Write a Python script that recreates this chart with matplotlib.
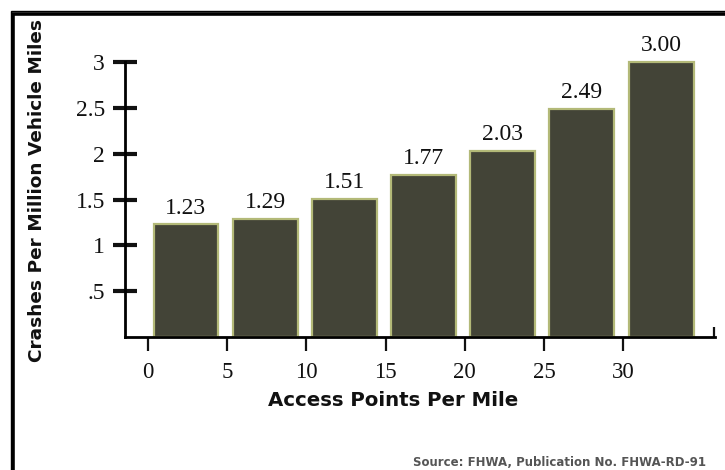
import matplotlib
matplotlib.use("Agg")
import matplotlib.pyplot as plt
from matplotlib.patches import Rectangle

# Data
access_points = [0, 5, 10, 15, 20, 25, 30]
crash_rates = [1.23, 1.29, 1.51, 1.77, 2.03, 2.49, 3.00]
value_labels = ["1.23", "1.29", "1.51", "1.77", "2.03", "2.49", "3.00"]
y_ticks = [0.5, 1, 1.5, 2, 2.5, 3]
y_tick_labels = [".5", "1", "1.5", "2", "2.5", "3"]
x_ticks = [0, 5, 10, 15, 20, 25, 30]

W, H = 725, 470
fig = plt.figure(figsize=(W / 100, H / 100), dpi=100)
fig.patch.set_facecolor("white")

# axes placement (pixel based)
x0_px, x1_px = 125, 715
y_base_px, y_top_px = 337, 34.5
ax = fig.add_axes([x0_px / W, (H - y_base_px) / H, (x1_px - x0_px) / W, (y_base_px - y_top_px) / H])
ax.set_facecolor("none")

xmin, xmax = -1.45, 35.8
ax.set_xlim(xmin, xmax)
ax.set_ylim(0, 3.3)

serif = ["Liberation Serif", "DejaVu Serif"]
sans = ["DejaVu Sans"]

bars = ax.bar([a + 0.35 for a in access_points], crash_rates, width=4.1, align="edge",
              color="#434437", edgecolor="#b3b978", linewidth=1.6, zorder=2)
ax.bar_label(bars, labels=value_labels, padding=4, fontsize=17, family=serif, color="#111111")

for s in ["top", "right"]:
    ax.spines[s].set_visible(False)
ax.spines["left"].set_bounds(0, 3)
ax.spines["left"].set_linewidth(2)
ax.spines["bottom"].set_linewidth(2)
ax.spines["left"].set_zorder(3)
ax.spines["bottom"].set_zorder(3)

ax.set_yticks(y_ticks)
ax.set_yticklabels(y_tick_labels, family=serif, fontsize=17)
ax.tick_params(axis="y", direction="inout", length=17, width=3, pad=6, colors="#111111")

ax.set_xticks(x_ticks)
ax.set_xticklabels([str(v) for v in x_ticks], family=serif, fontsize=16.5)
ax.tick_params(axis="x", direction="out", length=10, width=1.6, pad=8, colors="#111111")
ax.set_xticks([xmax - 0.05], minor=True)
ax.tick_params(axis="x", which="minor", direction="in", length=7, width=1.6, colors="#111111")

# axis titles
fig.text(393 / W, 1 - 401 / H, "Access Points Per Mile", ha="center", va="center",
         family=sans, fontweight="bold", fontsize=14.2, color="#111111")
fig.text(37 / W, 1 - 191 / H, "Crashes Per Million Vehicle Miles", ha="center", va="center",
         rotation=90, family=sans, fontweight="bold", fontsize=13.3, color="#111111")

# source note
fig.text(413 / W, 4 / H, "Source: FHWA, Publication No. FHWA-RD-91", ha="left", va="baseline",
         family=sans, fontweight="bold", fontsize=8.5, color="#555555")

# double frame (cropped on right and bottom)
fig.patches.append(Rectangle((10.5 / W, -0.2), 1.5, 1.2 - 10.5 / H, transform=fig.transFigure,
                             fill=False, edgecolor="black", linewidth=1.0))
fig.patches.append(Rectangle((13.5 / W, -0.2), 1.5, 1.2 - 13.5 / H, transform=fig.transFigure,
                             fill=False, edgecolor="black", linewidth=2.6))

fig.savefig("out.png", dpi=100)
